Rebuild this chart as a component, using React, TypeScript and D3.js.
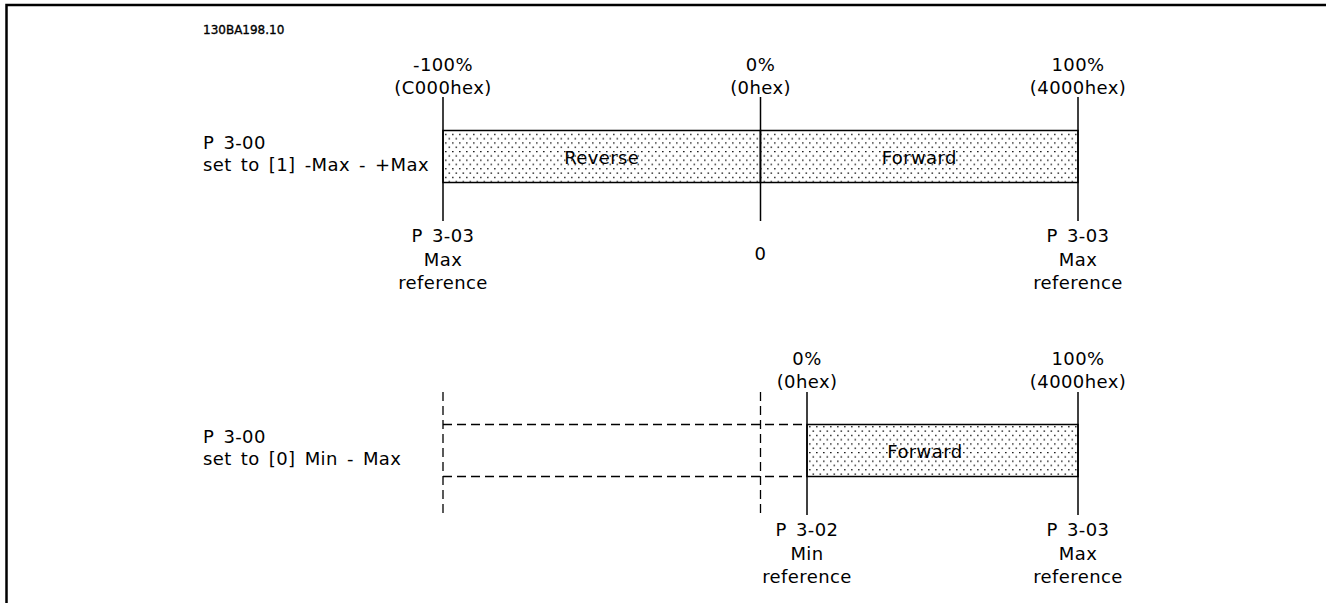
import React from "react";
import * as d3 from "d3";

// ---- data ----
const figureId = "130BA198.10";

const topTicks = [-100, 0, 100];
const topPctLabels = ["-100%", "0%", "100%"];
const topHexLabels = ["(C000hex)", "(0hex)", "(4000hex)"];
const topBelowLabels = [["P 3-03", "Max", "reference"], ["0"], ["P 3-03", "Max", "reference"]];
const topSegments = [
  { from: -100, to: 0, label: "Reverse", labelAt: -50 },
  { from: 0, to: 100, label: "Forward", labelAt: 50 },
];
const topRowLabel = ["P 3-00", "set to [1] -Max - +Max"];

const bottomTicks = [0, 100];
const bottomPctLabels = ["0%", "100%"];
const bottomHexLabels = ["(0hex)", "(4000hex)"];
const bottomBelowLabels = [["P 3-02", "Min", "reference"], ["P 3-03", "Max", "reference"]];
const bottomSegments = [{ from: 0, to: 100, label: "Forward", labelAt: 43.5 }];
const bottomGhost = [-100, 0];
const bottomRowLabel = ["P 3-00", "set to [0] Min - Max"];

// ---- layout ----
const W = 1326;
const H = 603;
const FONT = "'DejaVu Sans', Verdana, sans-serif";
const FS = 18;

const xTop = d3.scaleLinear().domain([-100, 100]).range([443, 1078]);
const xBottom = d3.scaleLinear().domain([0, 100]).range([807, 1078]);

const txt = {
  fontFamily: FONT,
  fontSize: FS,
  letterSpacing: 0.4,
  wordSpacing: 3,
  fill: "#000",
} as const;

function Section(props: {
  x: d3.ScaleLinear<number, number>;
  ticks: number[];
  pct: string[];
  hex: string[];
  below: string[][];
  segments: { from: number; to: number; label: string; labelAt: number }[];
  rowLabel: string[];
  barTop: number;
  barBottom: number;
  lineTop: number;
  lineBottom: number;
  pctBaseline: number;
  belowBaseline: number;
  ghost?: number[];
  ghostScale?: d3.ScaleLinear<number, number>;
}) {
  const { x, ticks, pct, hex, below, segments, rowLabel, barTop, barBottom, lineTop, lineBottom, pctBaseline, belowBaseline, ghost, ghostScale } = props;
  const barMid = (barTop + barBottom) / 2;
  return (
    <g>
      {/* row label */}
      <text x={203} y={barMid - 8} {...txt}>{rowLabel[0]}</text>
      <text x={203} y={barMid + 14} {...txt}>{rowLabel[1]}</text>

      {/* ghost dashed range */}
      {ghost && ghostScale && (
        <g stroke="#000" strokeWidth={1.3} strokeDasharray="9,5" fill="none">
          {ghost.map((g, i) => (
            <line key={"gv" + i} x1={ghostScale(g)} x2={ghostScale(g)} y1={lineTop} y2={lineBottom} />
          ))}
          <line x1={ghostScale(ghost[0])} x2={x(segments[0].from)} y1={barTop} y2={barTop} />
          <line x1={ghostScale(ghost[0])} x2={x(segments[0].from)} y1={barBottom} y2={barBottom} />
        </g>
      )}

      {/* bars */}
      {segments.map((s, i) => (
        <g key={"s" + i}>
          <rect
            x={x(s.from)}
            y={barTop}
            width={x(s.to) - x(s.from)}
            height={barBottom - barTop}
            fill="url(#stipple)"
            stroke="#000"
            strokeWidth={1.5}
          />
          <text x={x(s.labelAt)} y={barMid + 7} textAnchor="middle" {...txt}>
            {s.label}
          </text>
        </g>
      ))}

      {/* tick lines and labels */}
      {ticks.map((t, i) => (
        <g key={"t" + i}>
          <line x1={x(t)} x2={x(t)} y1={lineTop} y2={lineBottom} stroke="#000" strokeWidth={1.5} />
          <text x={x(t)} y={pctBaseline} textAnchor="middle" {...txt}>{pct[i]}</text>
          <text x={x(t)} y={pctBaseline + 23} textAnchor="middle" {...txt}>{hex[i]}</text>
          {below[i].length === 1 ? (
            <text x={x(t)} y={belowBaseline + 18} textAnchor="middle" {...txt}>{below[i][0]}</text>
          ) : (
            below[i].map((l, j) => (
              <text key={j} x={x(t)} y={belowBaseline + j * 23.5} textAnchor="middle" {...txt}>{l}</text>
            ))
          )}
        </g>
      ))}
    </g>
  );
}

export default function App() {
  return (
    <svg
      width={W}
      height={H}
      viewBox={`0 0 ${W} ${H}`}
      style={{ position: "absolute", left: 0, top: 0, background: "#fff" }}
    >
      <defs>
        <pattern id="stipple" width={7} height={8.6} patternUnits="userSpaceOnUse">
          <rect width={7} height={8.6} fill="#fff" />
          <rect x={0.5} y={0.5} width={1.6} height={1.2} fill="#111" />
          <rect x={4} y={4.8} width={1.6} height={1.2} fill="#111" />
        </pattern>
      </defs>
      <rect x={0} y={0} width={W} height={H} fill="#fff" />
      {/* frame */}
      <rect x={6.5} y={5} width={W + 20} height={H + 20} fill="none" stroke="#000" strokeWidth={2.5} />

      <text x={203} y={34} fontFamily={FONT} fontSize={12} fill="#000" stroke="#000" strokeWidth={0.35}>
        {figureId}
      </text>

      <Section
        x={xTop}
        ticks={topTicks}
        pct={topPctLabels}
        hex={topHexLabels}
        below={topBelowLabels}
        segments={topSegments}
        rowLabel={topRowLabel}
        barTop={130.5}
        barBottom={182.5}
        lineTop={97}
        lineBottom={221}
        pctBaseline={71}
        belowBaseline={242}
      />
      <Section
        x={xBottom}
        ticks={bottomTicks}
        pct={bottomPctLabels}
        hex={bottomHexLabels}
        below={bottomBelowLabels}
        segments={bottomSegments}
        rowLabel={bottomRowLabel}
        barTop={424.5}
        barBottom={476.5}
        lineTop={392}
        lineBottom={515}
        pctBaseline={365}
        belowBaseline={536}
        ghost={bottomGhost}
        ghostScale={xTop}
      />
    </svg>
  );
}
